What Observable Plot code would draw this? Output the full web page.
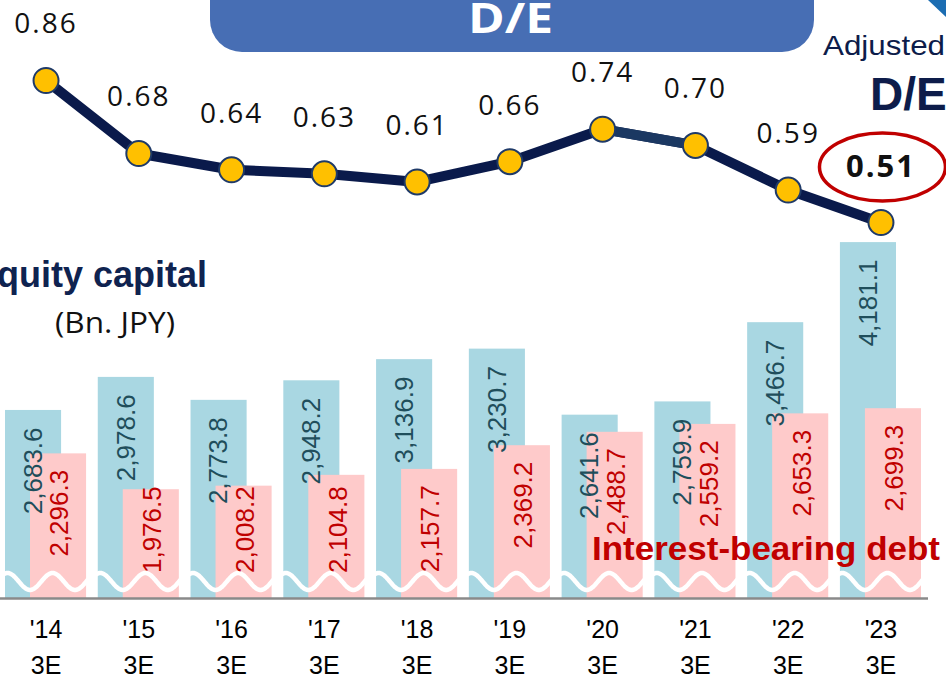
<!DOCTYPE html>
<html><head><meta charset="utf-8">
<script src="https://cdn.jsdelivr.net/npm/d3@7"></script>
<script src="https://cdn.jsdelivr.net/npm/@observablehq/plot@0.6"></script>
<style>
body{margin:0;background:#fff;}
#wrap{position:relative;width:946px;height:678px;overflow:hidden;background:#fff;}
#wrap > svg, #wrap > figure{position:absolute;left:0;top:0;margin:0;}
</style></head><body>
<div id="wrap"></div>
<script>
// ---- data ----
const years = ["'14", "'15", "'16", "'17", "'18", "'19", "'20", "'21", "'22", "'23"];
const fyLabel = "3E";
const equity = [2683.6, 2978.6, 2773.8, 2948.2, 3136.9, 3230.7, 2641.6, 2759.9, 3466.7, 4181.1];
const debt   = [2296.3, 1976.5, 2008.2, 2104.8, 2157.7, 2369.2, 2488.7, 2559.2, 2653.3, 2699.3];
const deRatio = [0.86, 0.68, 0.64, 0.63, 0.61, 0.66, 0.74, 0.70, 0.59, 0.51];

const W = 946, H = 678;
const yBase = 1006;          // axis-break value where bars start
const rows = years.map((y, i) => ({year: y, equity: equity[i], debt: debt[i], de: deRatio[i]}));
const fmt = d3.format(",.1f");
const common = {width: W, height: H, marginTop: 0, marginBottom: 80, marginLeft: 5, marginRight: 25};
const xOpts = {type: "band", domain: years, paddingInner: 0.126, paddingOuter: 0, round: false, axis: null};

// decorative axis-break waves
function waves(index, scales) {
  const sx = scales.x, sy = scales.y;
  const bw = typeof sx.bandwidth === "function" ? sx.bandwidth() : 81;
  const g = d3.create("svg:g");
  const yc = sy(yBase) - 16.5;
  for (const yr of years) {
    const cx = sx(yr) + bw / 2;
    const pts = d3.range(-46, 42.5, 1).map(dx => [cx + dx, yc + 8.5 * Math.cos(2 * Math.PI * (dx + 15.5) / 45)]);
    g.append("path").attr("d", d3.line()(pts)).attr("fill", "none")
      .attr("stroke", "#fff").attr("stroke-width", 4.5).attr("stroke-linecap", "round");
  }
  return g.node();
}

const p1 = Plot.plot({
  ...common,
  x: xOpts,
  y: {domain: [yBase, 6341], axis: null},
  style: {background: "transparent", fontFamily: "'Liberation Sans', Arial, sans-serif"},
  marks: [
    Plot.barY(rows, {x: "year", y1: yBase, y2: "equity", fill: "#a9d7e2", insetRight: 25}),
    Plot.barY(rows, {x: "year", y1: yBase, y2: "debt", fill: "#fecaca", insetLeft: 25}),
    waves,
    Plot.ruleY([yBase], {stroke: "#8a8a8a", strokeWidth: 2.5, insetLeft: -5, insetRight: -7}),
    Plot.text(rows, {x: "year", y: "equity", text: d => fmt(d.equity), rotate: -90, textAnchor: "end",
      dx: -12.5, dy: 17, fontSize: 26, fill: "#1f4e5b"}),
    Plot.text(rows, {x: "year", y: d => Math.max(d.debt, 2150), text: d => fmt(d.debt), rotate: -90, textAnchor: "end",
      dx: 14, dy: 16, fontSize: 26, fill: "#c00000"}),
    Plot.text(years, {x: d => d, y: yBase, text: d => d + "\n" + fyLabel, dy: 46, lineHeight: 1.42,
      fontSize: 25, fill: "#000"})
  ]
});

function ellipse(index, scales) {
  const sx = scales.x, sy = scales.y;
  const bw = typeof sx.bandwidth === "function" ? sx.bandwidth() : 81;
  const last = rows[rows.length - 1];
  return d3.create("svg:ellipse")
    .attr("cx", sx(last.year) + bw / 2 + 2).attr("cy", sy(last.de) - 55)
    .attr("rx", 63).attr("ry", 34)
    .attr("fill", "none").attr("stroke", "#c00000").attr("stroke-width", 3.5).node();
}

const p2 = Plot.plot({
  ...common,
  x: xOpts,
  y: {domain: [-0.4168, 1.0572], axis: null},
  style: {background: "transparent", fontFamily: "'Open Sans', sans-serif", letterSpacing: "2px"},
  marks: [
    Plot.line(rows, {x: "year", y: "de", stroke: "#0a1a4b", strokeWidth: 10}),
    Plot.line(rows.slice(6, 8), {x: "year", y: "de", stroke: "#1b3862", strokeWidth: 10}),
    Plot.dot(rows, {x: "year", y: "de", r: 12.5, fill: "#ffc000", stroke: "#1f3a68", strokeWidth: 2}),
    Plot.text(rows.slice(0, -1), {x: "year", y: "de", text: d => d.de.toFixed(2), dy: -56, fontSize: 28, fill: "#111"}),
    Plot.text(rows.slice(-1), {x: "year", y: "de", text: d => d.de.toFixed(2), dy: -55, fontSize: 31, fontWeight: "bold", fill: "#111"}),
    ellipse
  ]
});

const wrap = document.getElementById("wrap");
wrap.appendChild(p1);
wrap.appendChild(p2);

// annotations (title pill, series labels)
const ann = d3.create("svg").attr("width", W).attr("height", H)
  .style("position", "absolute").style("left", 0).style("top", 0);
ann.append("rect").attr("x", 210).attr("y", -40).attr("width", 604).attr("height", 92).attr("rx", 32)
  .attr("fill", "#476eb4");
ann.append("text").attr("x", 468).attr("y", 33)
  .attr("font-family", "'Open Sans', sans-serif").attr("font-weight", "bold").attr("font-size", 41)
  .attr("fill", "#fff").attr("textLength", 85).attr("lengthAdjust", "spacingAndGlyphs").text("D/E");
ann.append("polygon").attr("points", "928,0 946,0 946,17").attr("fill", "#1c6db2");
ann.append("text").attr("x", 823).attr("y", 55).attr("font-family", "'Liberation Sans', Arial, sans-serif")
  .attr("font-size", 28).attr("fill", "#0d1c4a").attr("textLength", 122).attr("lengthAdjust", "spacingAndGlyphs").text("Adjusted");
ann.append("text").attr("x", 870).attr("y", 110).attr("font-family", "'Liberation Sans', Arial, sans-serif")
  .attr("font-weight", "bold").attr("font-size", 46).attr("fill", "#0d1c4a").text("D/E");
ann.append("text").attr("x", 207).attr("y", 287).attr("text-anchor", "end").attr("font-family", "'Liberation Sans', Arial, sans-serif")
  .attr("font-weight", "bold").attr("font-size", 36).attr("fill", "#0f2350").text("Equity capital");
ann.append("text").attr("x", 55).attr("y", 333).attr("font-family", "'Open Sans', sans-serif")
  .attr("font-size", 29).attr("fill", "#111").attr("textLength", 120).attr("lengthAdjust", "spacingAndGlyphs").text("(Bn. JPY)");
ann.append("text").attr("x", 592).attr("y", 560).attr("font-family", "'Liberation Sans', Arial, sans-serif")
  .attr("font-weight", "bold").attr("font-size", 33).attr("fill", "#c00000").attr("textLength", 348).attr("lengthAdjust", "spacingAndGlyphs").text("Interest-bearing debt");
wrap.appendChild(ann.node());
</script>
</body></html>
